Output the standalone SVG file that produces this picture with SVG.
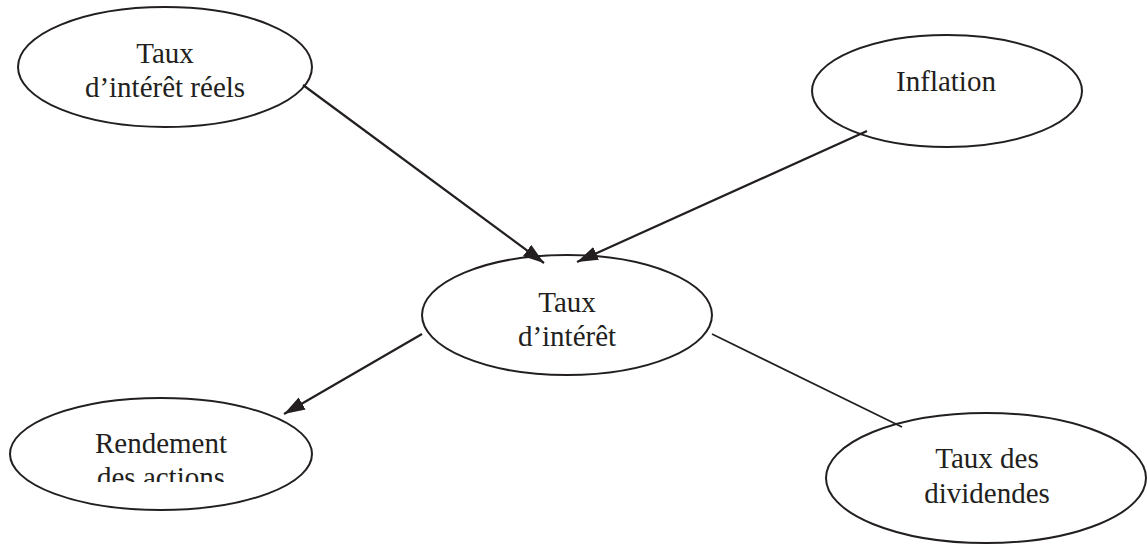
<svg xmlns="http://www.w3.org/2000/svg" width="1147" height="545" viewBox="0 0 1147 545">
<style>
.node ellipse{fill:#fff;stroke:#231f20;stroke-width:2}
.node text{font-family:"Liberation Serif","Times New Roman",serif;font-size:29px;fill:#231f20;text-anchor:middle}
.edge{stroke:#231f20;stroke-width:2.2;fill:none}
.thin{stroke-width:1.7}
</style>
<defs>
<marker id="ah" markerUnits="userSpaceOnUse" markerWidth="22" markerHeight="16" refX="21" refY="8" orient="auto">
<path d="M0,1 L21,8 L0,15 z" fill="#231f20"/>
</marker>
<clipPath id="clipR"><rect x="0" y="380" width="400" height="102"/></clipPath>
</defs>
<rect width="1147" height="545" fill="#fff"/>
<g id="taux-interet-reels" class="node">
<ellipse cx="165" cy="67" rx="147" ry="60"/>
<text x="165" y="63">Taux</text>
<text x="165" y="97">d’intérêt réels</text>
</g>
<g id="inflation" class="node">
<ellipse cx="947" cy="91" rx="135" ry="56"/>
<text x="946" y="91">Inflation</text>
</g>
<g id="taux-interet" class="node">
<ellipse cx="567" cy="315" rx="145" ry="60"/>
<text x="567" y="312">Taux</text>
<text x="567" y="346">d’intérêt</text>
</g>
<g id="rendement-actions" class="node">
<ellipse cx="161" cy="454" rx="151" ry="56"/>
<text x="161" y="453">Rendement</text>
<text x="161" y="487" clip-path="url(#clipR)">des actions</text>
</g>
<g id="taux-dividendes" class="node">
<ellipse cx="986" cy="478" rx="160" ry="65"/>
<text x="987" y="468">Taux des</text>
<text x="987" y="503">dividendes</text>
</g>
<g id="connectors">
<line class="edge" x1="303" y1="85" x2="544" y2="263" marker-end="url(#ah)"/>
<line class="edge" x1="867" y1="131" x2="577" y2="262" marker-end="url(#ah)"/>
<line class="edge" x1="422" y1="334" x2="284" y2="414" marker-end="url(#ah)"/>
<line class="edge thin" x1="712" y1="334" x2="902" y2="427"/>
</g>
</svg>
